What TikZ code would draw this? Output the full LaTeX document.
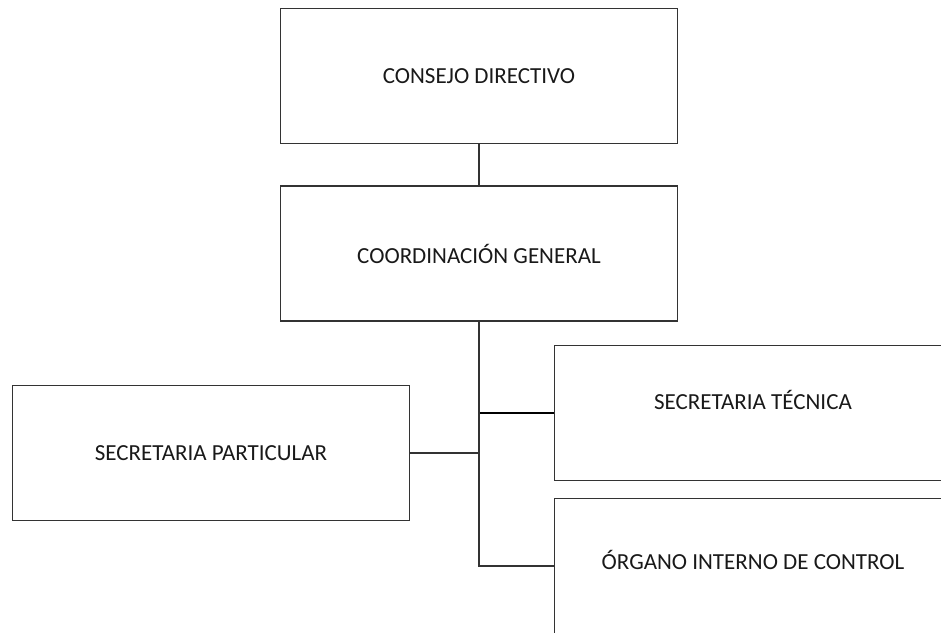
\documentclass[tikz,border=0pt]{standalone}
\usepackage{fontspec}
\setmainfont{Carlito}
\usetikzlibrary{positioning}
\tikzset{unit/.style={draw=black!80,line width=1.7pt,minimum width=397pt,minimum height=135pt,
  inner sep=0pt,text=black!90,font=\fontsize{23}{25}\selectfont},
  link/.style={draw=black!80,line width=1.7pt}}

\begin{document}
\begin{tikzpicture}[x=1pt,y=-1pt]
\clip (0,0) rectangle (941,632);
\node[unit] (consejo) at (479,76) {CONSEJO DIRECTIVO};
\node[unit,below=41pt of consejo] (coord) {COORDINACIÓN GENERAL};
\node[unit] (particular) at (211,453) {SECRETARIA PARTICULAR};
\node[unit] (tecnica) at (753,413) {\raisebox{26pt}{SECRETARIA TÉCNICA}};
\node[unit] (organo) at (753,566) {\raisebox{12pt}{ÓRGANO INTERNO DE CONTROL}};
\draw[link] (consejo) -- (coord);
\draw[link,black,line width=2.2pt] (coord.south) |- (tecnica.west);
\draw[link] (coord.south) |- (particular.east);
\draw[link] (coord.south) |- (organo.west);
\end{tikzpicture}
\end{document}
